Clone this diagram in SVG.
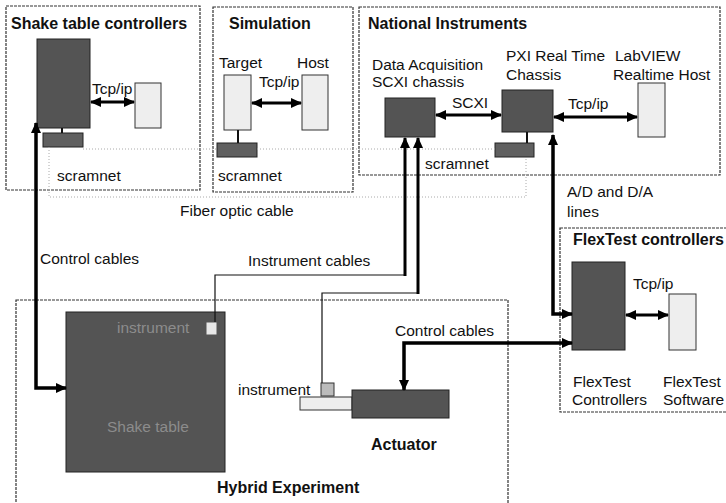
<svg xmlns="http://www.w3.org/2000/svg" width="726" height="503" viewBox="0 0 726 503">
<style>
text{font-family:"Liberation Sans",Arial,sans-serif;font-size:15.5px;fill:#111}
.b{font-weight:bold;font-size:16px}
.panel{fill:none;stroke:#333;stroke-width:1.2;stroke-dasharray:3 1}
.dark{fill:#545454;stroke:#222;stroke-width:1}
.light{fill:#eeeeee;stroke:#333;stroke-width:1}
.scr{fill:#606060;stroke:#222;stroke-width:1}
.thick{fill:none;stroke:#000;stroke-width:3.5}
.tcp{fill:none;stroke:#000;stroke-width:3}
.thin{fill:none;stroke:#111;stroke-width:1.2}
.stem{fill:none;stroke:#111;stroke-width:2}
.fiber{fill:none;stroke:#aaa;stroke-width:1;stroke-dasharray:1 2}
.inner{fill:#8c8c8c}
</style>
<defs>
<marker id="ah" markerUnits="userSpaceOnUse" markerWidth="11" markerHeight="10" refX="10" refY="5" orient="auto-start-reverse"><path d="M0,0 L11,5 L0,10 z" fill="#000"/></marker>
</defs>
<rect width="726" height="503" fill="#fff"/>

<g id="panel-shake">
<rect class="panel" x="6" y="6" width="194" height="184"/>
<text class="b" x="11" y="29">Shake table controllers</text>
</g>
<g id="panel-sim">
<rect class="panel" x="213" y="7" width="140" height="185"/>
<text class="b" x="229" y="29">Simulation</text>
</g>
<g id="panel-ni">
<rect class="panel" x="359" y="7" width="361" height="168"/>
<text class="b" x="368" y="29">National Instruments</text>
</g>
<g id="panel-flextest">
<rect class="panel" x="560" y="228" width="175" height="184"/>
<text class="b" x="573" y="245">FlexTest controllers</text>
</g>
<g id="panel-hybrid">
<rect class="panel" x="16" y="300" width="492" height="215"/>
<text class="b" x="217" y="493">Hybrid Experiment</text>
</g>

<g id="shake-controller"><rect class="dark" x="37" y="39" width="53" height="89"/></g>
<g id="shake-host"><rect class="light" x="135" y="83" width="26" height="45"/></g>
<g id="shake-scramnet"><rect class="scr" x="43" y="133" width="40" height="14"/><text x="57" y="181">scramnet</text></g>

<g id="sim-target"><rect class="light" x="224" y="75" width="27" height="55"/><text x="219" y="68">Target</text></g>
<g id="sim-host"><rect class="light" x="302" y="75" width="26" height="55"/><text x="297" y="68">Host</text></g>
<g id="sim-scramnet"><rect class="scr" x="217" y="143" width="40" height="14"/><text x="218" y="181">scramnet</text></g>

<g id="ni-daq"><rect class="dark" x="385" y="98" width="50" height="39"/><text x="372" y="70">Data Acquisition</text><text x="372" y="87">SCXI chassis</text></g>
<g id="ni-pxi"><rect class="dark" x="502" y="90" width="51" height="42"/><text x="506" y="61">PXI Real Time</text><text x="506" y="80">Chassis</text></g>
<g id="ni-labview"><rect class="light" x="638" y="83" width="27" height="54"/><text x="615" y="61">LabVIEW</text><text x="613" y="80">Realtime Host</text></g>
<g id="ni-scramnet"><rect class="scr" x="495" y="143" width="39" height="14"/><text x="425" y="169">scramnet</text></g>

<g id="flextest-controllers"><rect class="dark" x="572" y="262" width="53" height="88"/><text x="573" y="387">FlexTest</text><text x="572" y="405">Controllers</text></g>
<g id="flextest-software"><rect class="light" x="669" y="294" width="27" height="56"/><text x="663" y="387">FlexTest</text><text x="663" y="405">Software</text></g>

<g id="shake-table">
<rect class="dark" x="66" y="312" width="159" height="160"/>
<text class="inner" x="117" y="333">instrument</text>
<text class="inner" x="107" y="432">Shake table</text>
<rect x="206" y="322" width="11" height="13" fill="#e8e8e8" stroke="#555" stroke-width="1"/>
</g>
<g id="actuator">
<rect class="light" x="300" y="397" width="52" height="13"/>
<rect class="dark" x="352" y="390" width="97" height="28"/>
<rect x="321" y="383" width="13" height="13" fill="#bbb" stroke="#333" stroke-width="1"/>
<text x="238" y="395">instrument</text>
<text class="b" x="371" y="450">Actuator</text>
</g>

<g id="connectors">
<path class="fiber" d="M83,149 L217,149"/>
<path class="fiber" d="M257,149 L495,149"/>
<path class="fiber" d="M49,147 L49,197 L526,197 L526,157"/>
<path class="stem" d="M62,128 L62,133"/>
<path class="stem" d="M238,130 L238,143"/>
<path class="stem" d="M527,132 L527,143"/>
<path class="tcp" d="M91,102 L134,102" marker-start="url(#ah)" marker-end="url(#ah)"/>
<path class="tcp" d="M252,103 L301,103" marker-start="url(#ah)" marker-end="url(#ah)"/>
<path class="tcp" d="M436,115 L501,115" marker-start="url(#ah)" marker-end="url(#ah)"/>
<path class="tcp" d="M554,117 L637,117" marker-start="url(#ah)" marker-end="url(#ah)"/>
<path class="tcp" d="M626,315 L668,315" marker-start="url(#ah)" marker-end="url(#ah)"/>
<path class="thick" d="M66,388 L36,388 L36,123" marker-start="url(#ah)" marker-end="url(#ah)"/>
<path class="thick" d="M572,343 L404,343 L404,390" marker-start="url(#ah)" marker-end="url(#ah)"/>
<path class="thick" d="M553,135 L553,314 L572,314" marker-start="url(#ah)" marker-end="url(#ah)"/>
<path class="thin" d="M215,322 L215,275 L405,275"/>
<path class="thin" d="M322,383 L322,293 L418,293"/>
<path class="tcp" d="M405,276 L405,138" marker-end="url(#ah)"/>
<path class="tcp" d="M418,294 L418,138" marker-end="url(#ah)"/>
<text x="92" y="94">Tcp/ip</text>
<text x="259" y="87">Tcp/ip</text>
<text x="452" y="108">SCXI</text>
<text x="568" y="109">Tcp/ip</text>
<text x="633" y="289">Tcp/ip</text>
<text x="180" y="216">Fiber optic cable</text>
<text x="40" y="264">Control cables</text>
<text x="248" y="266">Instrument cables</text>
<text x="395" y="336">Control cables</text>
<text x="567" y="197">A/D and D/A</text>
<text x="567" y="217">lines</text>
</g>
</svg>
